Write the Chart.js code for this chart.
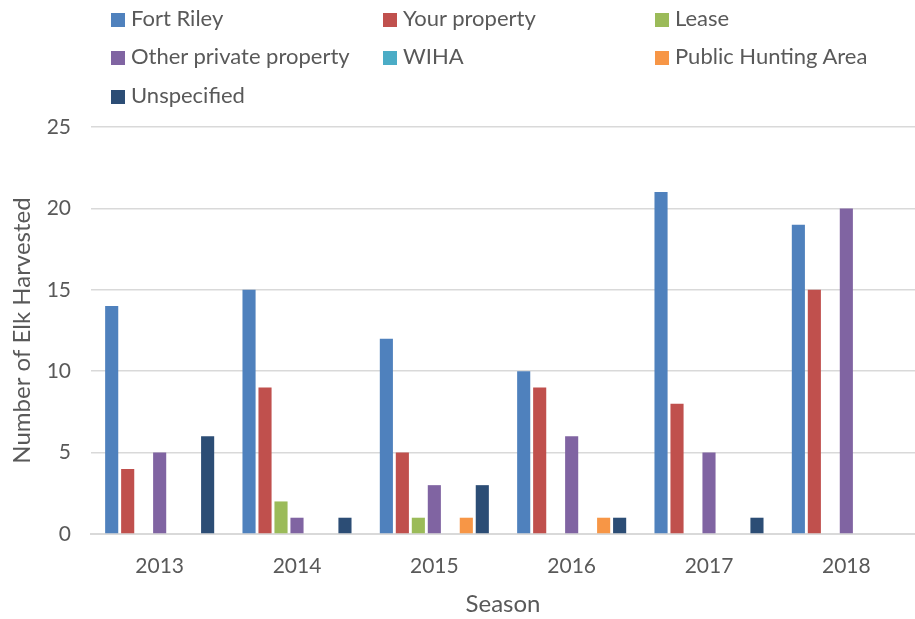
<!DOCTYPE html>
<html>
<head>
<meta charset="utf-8">
<script src="https://cdn.jsdelivr.net/npm/chart.js@4/dist/chart.umd.min.js"></script>
<style>
  body { margin: 0; background: #fff; }
  #wrap { position: relative; width: 915px; height: 619px; }
  #legend { position: absolute; left: 0; top: 0; width: 915px; height: 110px;
            font-family: Lato, sans-serif; font-size: 22px; color: #595959; }
  .item { position: absolute; white-space: nowrap; line-height: 22px; }
  .item span.box { display: inline-block; width: 14px; height: 14px; margin-right: 6px; vertical-align: -1px; }
</style>
</head>
<body>
<div id="wrap">
  <canvas id="elk-canvas" width="915" height="619"></canvas>
  <div id="legend"></div>
</div>
<script>
var seasons = ['2013', '2014', '2015', '2016', '2017', '2018']

var fortRiley = [14, 15, 12, 10, 21, 19]
var yourProperty = [4, 9, 5, 9, 8, 15]
var lease = [0, 2, 1, 0, 0, 0]
var otherPrivate = [5, 1, 3, 6, 5, 20]
var wiha = [0, 0, 0, 0, 0, 0]
var publicHunting = [0, 0, 1, 1, 0, 0]
var unspecified = [6, 1, 3, 1, 1, 0]

var seriesNames = ['Fort Riley', 'Your property', 'Lease', 'Other private property', 'WIHA', 'Public Hunting Area', 'Unspecified']
var seriesData = [fortRiley, yourProperty, lease, otherPrivate, wiha, publicHunting, unspecified]
var seriesColors = ['#4F81BD', '#C0504D', '#9BBB59', '#8064A2', '#4BACC6', '#F79646', '#2C4D75']

// legend in 3 columns like the original
var legendCols = [111, 383, 655]
var legendRows = [18, 56, 95]
var legendBox = document.getElementById('legend')
for (let i = 0; i < seriesNames.length; i++) {
    var div = document.createElement('div')
    div.className = 'item'
    div.style.left = legendCols[i % 3] + 'px'
    div.style.top = (legendRows[Math.floor(i / 3)] - 11) + 'px'
    div.innerHTML = '<span class="box" style="background:' + seriesColors[i] + '"></span>' + seriesNames[i]
    legendBox.appendChild(div)
}

var datasets = []
for (let i = 0; i < seriesNames.length; i++) {
    datasets.push({
        label: seriesNames[i],
        data: seriesData[i],
        backgroundColor: seriesColors[i],
        borderWidth: 0
    })
}

var textColor = '#595959'
var ctx = document.getElementById('elk-canvas').getContext('2d')
var elkChart = new Chart(ctx, {
    type: 'bar',
    data: {
        labels: seasons,
        datasets: datasets
    },
    options: {
        responsive: false,
        animation: false,
        layout: { padding: { top: 127, right: 0, left: 0, bottom: 0 } },
        datasets: {
            bar: { categoryPercentage: 0.815, barPercentage: 0.82 }
        },
        plugins: {
            legend: { display: false },
            tooltip: { enabled: false }
        },
        scales: {
            x: {
                grid: { display: false, drawTicks: false },
                border: { color: '#D9D9D9', width: 2 },
                ticks: { color: textColor, font: { family: 'Lato', size: 21 }, padding: 20 },
                title: { display: true, text: 'Season', color: textColor, font: { family: 'Lato', size: 24 }, padding: { top: 12, bottom: 0 } },
                afterFit: function (scale) { scale.height = 85 }
            },
            y: {
                min: 0,
                max: 25,
                ticks: { stepSize: 5, color: textColor, font: { family: 'Lato', size: 21 }, padding: 20 },
                grid: { color: '#D9D9D9', drawTicks: false, lineWidth: 1.5 },
                border: { display: false },
                title: { display: true, text: 'Number of Elk Harvested', color: textColor, font: { family: 'Lato', size: 24 }, padding: { top: 8, bottom: 4 } },
                afterFit: function (scale) { scale.width = 91 }
            }
        }
    }
})
</script>
</body>
</html>
